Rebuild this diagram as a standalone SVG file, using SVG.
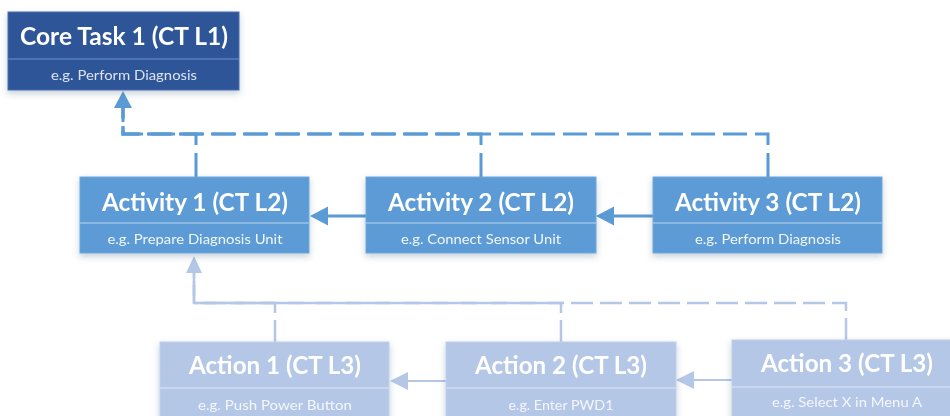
<svg xmlns="http://www.w3.org/2000/svg" width="950" height="416" viewBox="0 0 950 416">
<defs>
<style>
.t{font-family:Lato,"Open Sans","Liberation Sans",sans-serif;font-weight:bold;font-size:25px;fill:#fff;text-anchor:middle}
.s{font-family:Lato,"Open Sans","Liberation Sans",sans-serif;font-size:13px;text-anchor:middle}
.core rect.b{fill:#2F5597;stroke:#4A6FB0;stroke-width:1}
.core line{stroke:#5B7DBE;stroke-width:1.5}
.core .s{fill:#DCE4F3}
.act rect.b{fill:#5B9BD5;stroke:#6FA8DC;stroke-width:1}
.act line{stroke:#9DC3E6;stroke-width:1.5}
.act .s{fill:#F2F7FC}
.acn rect.b{fill:#B4C7E7;stroke:#BFD0EC;stroke-width:1}
.acn line{stroke:#CFDBF0;stroke-width:1.5}
.acn .s{fill:#F4F7FC}
.up{fill:none;stroke:#5B9BD5;stroke-width:3;stroke-dasharray:24 8}
.lo{fill:none;stroke:#B4C7E7;stroke-width:2.5;stroke-dasharray:22 7}
.sol1{stroke:#5B9BD5;stroke-width:3}
.sol2{stroke:#B4C7E7;stroke-width:2}
</style>
<filter id="sh" x="-10%" y="-20%" width="120%" height="150%">
<feDropShadow dx="0" dy="3" stdDeviation="3" flood-color="#1F3864" flood-opacity="0.25"/>
</filter>
</defs>
<rect width="950" height="416" fill="#fff"/>

<g id="connectors">
<path class="up" d="M196,177 V134 H123 V106"/>
<path class="up" d="M481,177 V134 H123 V106"/>
<path class="up" d="M768,177 V134 H123 V106"/>
<polygon points="123,91 114,108 132,108" fill="#5B9BD5"/>
<line class="sol1" x1="366" y1="216" x2="326" y2="216"/>
<polygon points="310,216 328,206.5 328,225.5" fill="#5B9BD5"/>
<line class="sol1" x1="653" y1="216" x2="612" y2="216"/>
<polygon points="596,216 614,206.5 614,225.5" fill="#5B9BD5"/>
<path class="lo" d="M275,342 V303 H194 V271"/>
<path class="lo" d="M561,342 V303 H194 V271"/>
<path class="lo" d="M846,340 V303 H194 V271"/>
<polygon points="194,256 186,273 202,273" fill="#B4C7E7"/>
<line class="sol2" x1="446" y1="381" x2="406" y2="381"/>
<polygon points="390,381 408,372 408,390" fill="#B4C7E7"/>
<line class="sol2" x1="732" y1="380" x2="692" y2="380"/>
<polygon points="676,380 694,371 694,389" fill="#B4C7E7"/>
</g>

<g id="core1" class="core" filter="url(#sh)">
<rect class="b" x="8" y="12" width="231" height="78"/>
<line x1="8" y1="59" x2="239" y2="59"/>
<text class="t" x="124" y="45" textLength="208" lengthAdjust="spacingAndGlyphs">Core Task 1 (CT L1)</text>
<text class="s" x="124" y="80" textLength="146" lengthAdjust="spacingAndGlyphs">e.g. Perform Diagnosis</text>
</g>

<g id="activity1" class="act" filter="url(#sh)">
<rect class="b" x="80" y="177" width="229" height="76"/>
<line x1="80" y1="223" x2="309" y2="223"/>
<text class="t" x="195" y="211" textLength="186" lengthAdjust="spacingAndGlyphs">Activity 1 (CT L2)</text>
<text class="s" x="195" y="244" textLength="175" lengthAdjust="spacingAndGlyphs">e.g. Prepare Diagnosis Unit</text>
</g>

<g id="activity2" class="act" filter="url(#sh)">
<rect class="b" x="366" y="177" width="230" height="76"/>
<line x1="366" y1="223" x2="596" y2="223"/>
<text class="t" x="481" y="211" textLength="186" lengthAdjust="spacingAndGlyphs">Activity 2 (CT L2)</text>
<text class="s" x="481" y="244" textLength="160" lengthAdjust="spacingAndGlyphs">e.g. Connect Sensor Unit</text>
</g>

<g id="activity3" class="act" filter="url(#sh)">
<rect class="b" x="653" y="177" width="229" height="76"/>
<line x1="653" y1="223" x2="882" y2="223"/>
<text class="t" x="768" y="211" textLength="186" lengthAdjust="spacingAndGlyphs">Activity 3 (CT L2)</text>
<text class="s" x="768" y="244" textLength="146" lengthAdjust="spacingAndGlyphs">e.g. Perform Diagnosis</text>
</g>

<g id="action1" class="acn" filter="url(#sh)">
<rect class="b" x="160" y="342" width="229" height="80"/>
<line x1="160" y1="388" x2="389" y2="388"/>
<text class="t" x="275" y="374" textLength="172" lengthAdjust="spacingAndGlyphs">Action 1 (CT L3)</text>
<text class="s" x="275" y="410" textLength="154" lengthAdjust="spacingAndGlyphs">e.g. Push Power Button</text>
</g>

<g id="action2" class="acn" filter="url(#sh)">
<rect class="b" x="446" y="342" width="230" height="80"/>
<line x1="446" y1="388" x2="676" y2="388"/>
<text class="t" x="561" y="374" textLength="172" lengthAdjust="spacingAndGlyphs">Action 2 (CT L3)</text>
<text class="s" x="561" y="410" textLength="105" lengthAdjust="spacingAndGlyphs">e.g. Enter PWD1</text>
</g>

<g id="action3" class="acn" filter="url(#sh)">
<rect class="b" x="732" y="340" width="230" height="80"/>
<line x1="732" y1="387" x2="962" y2="387"/>
<text class="t" x="847" y="372" textLength="172" lengthAdjust="spacingAndGlyphs">Action 3 (CT L3)</text>
<text class="s" x="847" y="407" textLength="150" lengthAdjust="spacingAndGlyphs">e.g. Select X in Menu A</text>
</g>
</svg>
